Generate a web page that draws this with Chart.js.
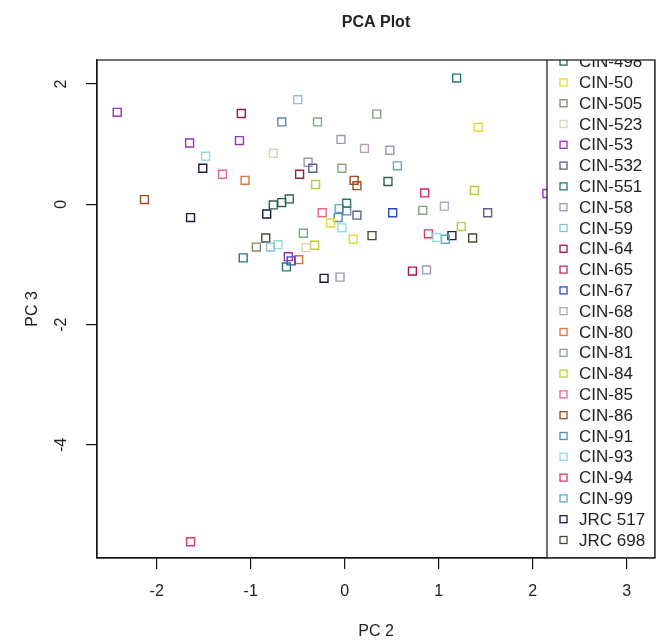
<!DOCTYPE html>
<html>
<head>
<meta charset="utf-8">
<title>PCA Plot</title>
<script src="https://cdn.jsdelivr.net/npm/chart.js@4.4.1/dist/chart.umd.min.js"></script>
<style>
  html, body { margin: 0; padding: 0; background: #fff; }
  #pcaChart { display: block; }
</style>
</head>
<body>
<canvas id="pcaChart" width="662" height="644"></canvas>
<script>
// sample names, in legend order
const sampleNames = ['CIN-498', 'CIN-50', 'CIN-505', 'CIN-523', 'CIN-53', 'CIN-532', 'CIN-551', 'CIN-58',
    'CIN-59', 'CIN-64', 'CIN-65', 'CIN-67', 'CIN-68', 'CIN-80', 'CIN-81', 'CIN-84', 'CIN-85', 'CIN-86',
    'CIN-91', 'CIN-93', 'CIN-94', 'CIN-99', 'JRC 517', 'JRC 698'];

const sampleColors = ['#2f5f4f', '#dede3a', '#8c8470', '#dcd6b6', '#9b30c0', '#5a6090', '#2a7a68', '#9a98b8',
    '#88c0d8', '#a01848', '#c0306a', '#2a4ac0', '#b8a0b8', '#e07040', '#80a880', '#bccc3a', '#e86890', '#a04820',
    '#5888b0', '#8edede', '#d83c60', '#60a8c8', '#1a1a40', '#4a4a38'];

// one entry per point: which sample, PC2, PC3
const pointSample = [
    'CIN-498', 'CIN-498', 'CIN-498', 'CIN-498',
    'CIN-50', 'CIN-50', 'CIN-50',
    'CIN-505',
    'CIN-523', 'CIN-523',
    'CIN-53', 'CIN-53', 'CIN-53', 'CIN-53', 'CIN-53',
    'CIN-532', 'CIN-532', 'CIN-532',
    'CIN-551', 'CIN-551', 'CIN-551', 'CIN-551',
    'CIN-58', 'CIN-58', 'CIN-58', 'CIN-58', 'CIN-58',
    'CIN-59', 'CIN-59',
    'CIN-64', 'CIN-64', 'CIN-64',
    'CIN-65',
    'CIN-67', 'CIN-67',
    'CIN-68', 'CIN-68',
    'CIN-80', 'CIN-80',
    'CIN-81', 'CIN-81', 'CIN-81', 'CIN-81', 'CIN-81',
    'CIN-84', 'CIN-84', 'CIN-84', 'CIN-84',
    'CIN-85', 'CIN-85',
    'CIN-86', 'CIN-86', 'CIN-86',
    'CIN-91', 'CIN-91', 'CIN-91',
    'CIN-93', 'CIN-93', 'CIN-93', 'CIN-93',
    'CIN-94', 'CIN-94',
    'CIN-99', 'CIN-99', 'CIN-99',
    'JRC 517', 'JRC 517', 'JRC 517', 'JRC 517', 'JRC 517',
    'JRC 698', 'JRC 698', 'JRC 698'
];
const pc2 = [
    -0.59, -0.67, -0.76, 0.46,
    -0.15, 1.42, 0.09,
    -0.94,
    -0.76, -0.41,
    -2.42, -1.65, -1.12, -0.60, 2.15,
    -0.34, 0.13, 1.52,
    -1.08, -0.62, 1.19, 0.02,
    -0.39, -0.04, -0.05, 0.48, 0.87,
    -0.50, -0.79,
    -1.10, -0.48, 0.72,
    0.85,
    -0.57, 0.51,
    0.21, 1.06,
    -1.06, -0.49,
    -0.29, -0.03, -0.44, 0.34, 0.83,
    -0.31, -0.32, 1.38, 1.24,
    -1.30, -0.24,
    -2.13, 0.10, 0.13,
    -0.67, -0.07, 0.02,
    -1.48, -0.03, -0.71, 0.98,
    0.89, -1.64,
    -0.06, 0.56, 1.07,
    -1.51, -1.64, -0.83, -0.22, 1.14,
    -0.84, 0.29, 1.36
];
const pc3 = [
    0.09, 0.03, -0.01, 0.38,
    -0.31, 1.28, -0.58,
    -0.71,
    0.85, -0.72,
    1.53, 1.02, 1.06, -0.87, 0.18,
    0.60, -0.18, -0.14,
    -0.89, -1.04, 2.10, 0.02,
    0.70, 1.08, -1.21, 0.90, -1.09,
    1.74, -0.71,
    1.51, 0.50, -1.11,
    0.19,
    -0.94, -0.14,
    0.93, -0.03,
    0.40, -0.92,
    1.37, 0.60, -0.48, 1.50, -0.10,
    0.33, -0.68, 0.23, -0.37,
    0.50, -0.14,
    0.08, 0.40, 0.31,
    1.37, -0.22, -0.11,
    0.80, -0.39, -0.67, -0.55,
    -0.49, -5.61,
    -0.07, 0.64, -0.58,
    0.60, -0.22, -0.16, -1.23, -0.52,
    -0.56, -0.52, -0.56
];

const xTickValues = [-2, -1, 0, 1, 2, 3];
const yTickValues = [-4, -2, 0, 2];

Chart.defaults.font.family = '"Liberation Sans", Arial, sans-serif';
Chart.defaults.color = '#222';

const datasets = sampleNames.map(function(name, i) {
    const pts = [];
    pointSample.forEach(function(s, k) {
        if (s === name) pts.push({x: pc2[k], y: pc3[k]});
    });
    return {
        label: name,
        data: pts,
        pointStyle: 'rect',
        pointRadius: 5.6,
        pointHoverRadius: 5.6,
        borderWidth: 1.4,
        borderColor: sampleColors[i],
        backgroundColor: 'transparent'
    };
});

// R style extras: title, rotated y labels, box, legend clipped to the plot region
const rStyle = {
    id: 'rStyle',
    afterDatasetsDraw(chart) {
        const ctx = chart.ctx;
        const a = chart.chartArea;

        // legend, bottom right, white background, clipped by the plot box
        ctx.save();
        ctx.beginPath();
        ctx.rect(a.left, a.top, a.right - a.left, a.bottom - a.top);
        ctx.clip();
        const n = chart.data.datasets.length;
        const rowH = 20.8;
        const boxW = 108;
        const boxL = a.right - boxW;
        const lastY = a.bottom - 18;
        const boxT = lastY - (n - 1) * rowH - 18;
        ctx.fillStyle = '#fff';
        ctx.fillRect(boxL, boxT, boxW, a.bottom - boxT);
        ctx.strokeStyle = '#111';
        ctx.lineWidth = 1.2;
        ctx.strokeRect(boxL, boxT, boxW, a.bottom - boxT);
        ctx.font = '17px "Liberation Sans", Arial, sans-serif';
        ctx.textAlign = 'left';
        ctx.textBaseline = 'middle';
        chart.data.datasets.forEach(function(ds, i) {
            const cy = lastY - (n - 1 - i) * rowH;
            ctx.strokeStyle = ds.borderColor;
            ctx.lineWidth = 1.3;
            ctx.strokeRect(boxL + 13, cy - 3.5, 7, 7);
            ctx.fillStyle = '#222';
            ctx.fillText(ds.label, boxL + 32, cy + 1);
        });
        ctx.restore();

        // plot box
        ctx.save();
        ctx.strokeStyle = '#111';
        ctx.lineWidth = 1.2;
        ctx.strokeRect(a.left, a.top, a.right - a.left, a.bottom - a.top);
        ctx.restore();
    },
    afterDraw(chart) {
        const ctx = chart.ctx;
        const a = chart.chartArea;
        const y = chart.scales.y;
        ctx.save();
        ctx.fillStyle = '#222';
        ctx.font = 'bold 16px "Liberation Sans", Arial, sans-serif';
        ctx.textAlign = 'center';
        ctx.textBaseline = 'middle';
        ctx.fillText('PCA Plot', (a.left + a.right) / 2, 23);

        ctx.font = '16px "Liberation Sans", Arial, sans-serif';
        yTickValues.forEach(function(v) {
            ctx.save();
            ctx.translate(62, y.getPixelForValue(v));
            ctx.rotate(-Math.PI / 2);
            ctx.fillText(String(v), 0, 0);
            ctx.restore();
        });
        ctx.restore();
    }
};

new Chart(document.getElementById('pcaChart').getContext('2d'), {
    type: 'scatter',
    data: { datasets: datasets },
    options: {
        responsive: false,
        animation: false,
        devicePixelRatio: 1,
        events: [],
        layout: { padding: { top: 60, right: 4, left: 0, bottom: 0 } },
        plugins: {
            legend: { display: false },
            title: { display: false },
            tooltip: { enabled: false }
        },
        scales: {
            x: {
                type: 'linear',
                min: -2.635,
                max: 3.30,
                afterBuildTicks: function(s) { s.ticks = xTickValues.map(v => ({value: v})); },
                afterFit: function(s) { s.height = 86; },
                grid: { drawOnChartArea: false, drawTicks: true, tickLength: 11, color: '#111', lineWidth: 1.2 },
                border: { display: true, color: '#111', width: 1.2 },
                ticks: { font: { size: 16 }, color: '#222', padding: 13, maxRotation: 0 },
                title: { display: true, text: 'PC 2', font: { size: 16 }, color: '#222', padding: { top: 0, bottom: 2.5 } }
            },
            y: {
                type: 'linear',
                min: -5.88,
                max: 2.40,
                afterBuildTicks: function(s) { s.ticks = yTickValues.map(v => ({value: v})); },
                afterFit: function(s) { s.width = 97; },
                grid: { drawOnChartArea: false, drawTicks: true, tickLength: 11, color: '#111', lineWidth: 1.2 },
                border: { display: true, color: '#111', width: 1.2 },
                ticks: { display: false },
                title: { display: true, text: 'PC 3', font: { size: 16 }, color: '#222', padding: { top: 23, bottom: 0 } }
            }
        }
    },
    plugins: [rStyle]
});
</script>
</body>
</html>
